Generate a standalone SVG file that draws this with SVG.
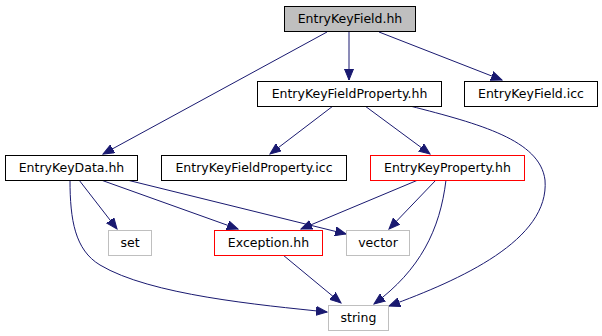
<svg xmlns="http://www.w3.org/2000/svg" width="602" height="336" viewBox="0 0 602 336">
<style>
.n rect{fill:#fff;stroke:#000;stroke-width:1}
.n text{font-family:"DejaVu Sans",sans-serif;font-size:12.5px;text-anchor:middle;fill:#000}
.root rect{fill:#bfbfbf}
.red rect{stroke:#ff0000}
.gray rect{stroke:#bfbfbf}
.e path{fill:none;stroke:#191970;stroke-width:1;marker-end:url(#ah)}
</style>
<defs>
<marker id="ah" markerUnits="userSpaceOnUse" markerWidth="12" markerHeight="10" viewBox="0 0 12 10" refX="11" refY="5" orient="auto">
<path d="M0,0.5 L11,5 L0,9.5 z" fill="#191970" stroke="#191970"/>
</marker>
</defs>
<rect width="602" height="336" fill="#fff"/>
<g id="edges" class="e">
<path d="M327,32 L103,154"/>
<path d="M349,32 L349,80"/>
<path d="M379,32 L502,80"/>
<path d="M333,106 L270,154"/>
<path d="M365,106 L430,154"/>
<path d="M410,106 C480,124 540,140 545,180 C550,240 460,280 389,306"/>
<path d="M79,180 L117,229"/>
<path d="M101,180 L238,229"/>
<path d="M127,180 L346,234"/>
<path d="M70,180 C70,220 75,250 100,265 C150,295 260,305 327,312"/>
<path d="M418,180 L301,229"/>
<path d="M436,180 L389,229"/>
<path d="M446,180 C440,230 420,270 374,304"/>
<path d="M283,255 L341,303"/>
</g>
<g id="EntryKeyField_hh" class="n root"><rect x="284.5" y="6.5" width="131" height="25"/><text x="350" y="23">EntryKeyField.hh</text></g>
<g id="EntryKeyFieldProperty_hh" class="n"><rect x="257.5" y="81.5" width="184" height="25"/><text x="349.5" y="98">EntryKeyFieldProperty.hh</text></g>
<g id="EntryKeyField_icc" class="n"><rect x="464.5" y="81.5" width="133" height="25"/><text x="531" y="98">EntryKeyField.icc</text></g>
<g id="EntryKeyData_hh" class="n"><rect x="5.5" y="155.5" width="132" height="25"/><text x="71.5" y="172">EntryKeyData.hh</text></g>
<g id="EntryKeyFieldProperty_icc" class="n"><rect x="161.5" y="155.5" width="185" height="25"/><text x="254" y="172">EntryKeyFieldProperty.icc</text></g>
<g id="EntryKeyProperty_hh" class="n red"><rect x="370.5" y="155.5" width="154" height="25"/><text x="447.5" y="172">EntryKeyProperty.hh</text></g>
<g id="set" class="n gray"><rect x="108.5" y="230.5" width="43" height="25"/><text x="130" y="247">set</text></g>
<g id="Exception_hh" class="n red"><rect x="214.5" y="230.5" width="108" height="25"/><text x="268.5" y="247">Exception.hh</text></g>
<g id="vector" class="n gray"><rect x="346.5" y="230.5" width="63" height="25"/><text x="378" y="247">vector</text></g>
<g id="string" class="n gray"><rect x="328.5" y="305.5" width="60" height="25"/><text x="358.5" y="322">string</text></g>
</svg>
